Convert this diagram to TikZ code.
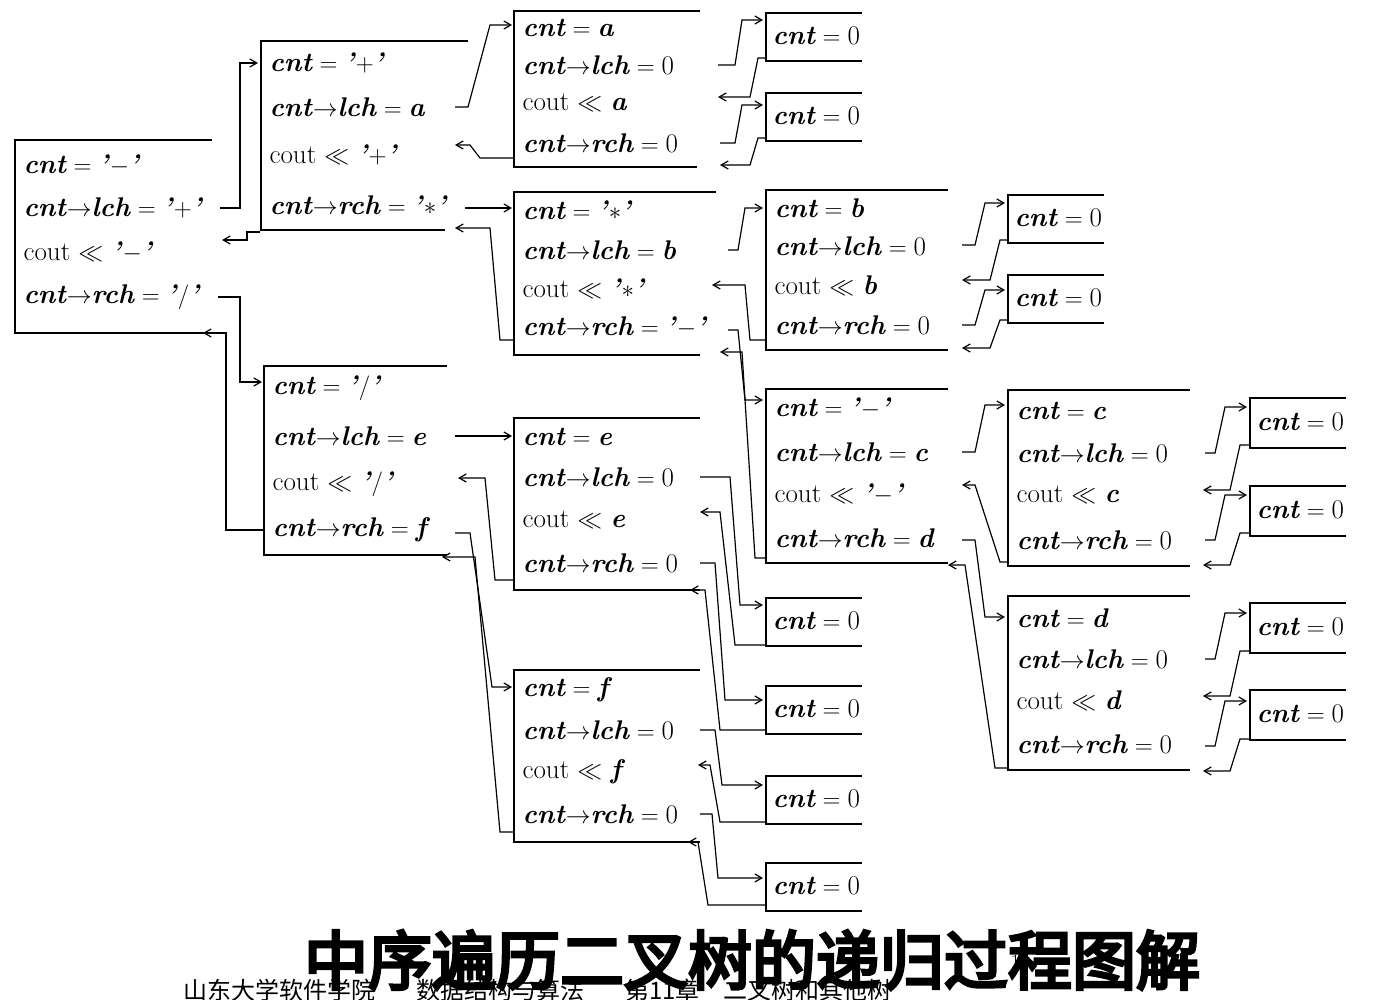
\documentclass[tikz,border=0pt]{standalone}
\usepackage{fontspec}
\usetikzlibrary{arrows.meta}
\newfontfamily\cjk{Noto Sans CJK SC}
\newfontfamily\cjkb{Noto Sans CJK SC}[FakeBold=5]
\newcommand{\C}{\textbf{\textit{cnt}}}
\newcommand{\A}{$\rightarrow$}
\newcommand{\Q}{\textbf{\textit{'}}}
\newcommand{\V}[1]{\textbf{\textit{#1}}}
\newcommand{\EQ}{${}={}$}
\newcommand{\bx}[5]{\draw (#4,#2)--(#1,#2)--(#1,#3)--(#5,#3);}
\newcommand{\rw}[9]{%
 \node[tx] at (#1+8,#2) {#6};\node[tx] at (#1+8,#3) {#7};%
 \node[tx] at (#1+8,#4) {#8};\node[tx] at (#1+8,#5) {#9};}
\begin{document}
\begin{tikzpicture}[x=1pt,y=-1pt,line width=1.2pt,
 tx/.style={anchor=west,inner sep=0pt,font=\fontsize{27}{30}\selectfont},
 ar/.style={-{Straight Barb[length=7pt,width=8pt]}}]
\useasboundingbox (0,0) rectangle (1378,1000);
% frames
\bx{15}{140}{333}{212}{212}
\rw{15}{165}{208}{252}{297}{\C\EQ\Q$-$\Q}{\C\A\V{lch}\EQ\Q$+$\Q}{cout $\ll$ \Q$-$\Q}{\C\A\V{rch}\EQ\Q$/$\Q}
\bx{261}{41}{230}{468}{445}
\rw{261}{63}{107}{155}{205}{\C\EQ\Q$+$\Q}{\C\A\V{lch}\EQ\V{a}}{cout $\ll$ \Q$+$\Q}{\C\A\V{rch}\EQ\Q$\ast$\Q}
\bx{514}{11}{167}{700}{697}
\rw{514}{28}{65}{103}{143}{\C\EQ\V{a}}{\C\A\V{lch}\EQ0}{cout $\ll$ \V{a}}{\C\A\V{rch}\EQ0}
\bx{514}{192}{355}{716}{700}
\rw{514}{210}{250}{289}{327}{\C\EQ\Q$\ast$\Q}{\C\A\V{lch}\EQ\V{b}}{cout $\ll$ \Q$\ast$\Q}{\C\A\V{rch}\EQ\Q$-$\Q}
\bx{766}{190}{350}{948}{948}
\rw{766}{208}{246}{286}{325}{\C\EQ\V{b}}{\C\A\V{lch}\EQ0}{cout $\ll$ \V{b}}{\C\A\V{rch}\EQ0}
\bx{766}{389}{563}{948}{948}
\rw{766}{408}{452}{494}{538}{\C\EQ\Q$-$\Q}{\C\A\V{lch}\EQ\V{c}}{cout $\ll$ \Q$-$\Q}{\C\A\V{rch}\EQ\V{d}}
\bx{1008}{390}{566}{1190}{1190}
\rw{1008}{411}{453}{495}{540}{\C\EQ\V{c}}{\C\A\V{lch}\EQ0}{cout $\ll$ \V{c}}{\C\A\V{rch}\EQ0}
\bx{1008}{596}{770}{1190}{1190}
\rw{1008}{618}{659}{701}{744}{\C\EQ\V{d}}{\C\A\V{lch}\EQ0}{cout $\ll$ \V{d}}{\C\A\V{rch}\EQ0}
\bx{264}{366}{555}{447}{447}
\rw{264}{388}{436}{484}{530}{\C\EQ\Q$/$\Q}{\C\A\V{lch}\EQ\V{e}}{cout $\ll$ \Q$/$\Q}{\C\A\V{rch}\EQ\V{f}}
\bx{514}{418}{590}{700}{700}
\rw{514}{437}{477}{520}{563}{\C\EQ\V{e}}{\C\A\V{lch}\EQ0}{cout $\ll$ \V{e}}{\C\A\V{rch}\EQ0}
\bx{514}{670}{842}{700}{700}
\rw{514}{690}{730}{772}{814}{\C\EQ\V{f}}{\C\A\V{lch}\EQ0}{cout $\ll$ \V{f}}{\C\A\V{rch}\EQ0}
% zero boxes
\foreach \x/\y in {766/13,766/93,1008/195,1008/275,766/598,766/686,766/776,766/863}{
 \draw (\x+96,\y)--(\x,\y)--(\x,\y+48)--(\x+96,\y+48);
 \node[tx] at (\x+6,\y+23) {\C\EQ0};}
\foreach \y in {398,486,603,690}{
 \draw (1346,\y)--(1250,\y)--(1250,\y+50)--(1346,\y+50);
 \node[tx] at (1256,\y+24) {\C\EQ0};}
% connectors
\draw[ar] (220,208)--(240,208)--(240,63)--(258,63);
\draw[ar] (260,232)--(247,232)--(247,240)--(222,240);
\draw[ar] (218,297)--(240,297)--(240,382)--(262,382);
\draw[ar] (264,530)--(226,530)--(226,333)--(203,333);
\draw[ar] (455,107)--(468,107)--(490,25)--(512,25);
\draw[ar] (514,158)--(480,158)--(470,145)--(455,145);
\draw[ar] (465,208)--(512,208);
\draw[ar] (514,340)--(500,340)--(490,228)--(455,228);
\draw[ar] (718,65)--(735,65)--(742,20)--(763,20);
\draw[ar] (766,58)--(758,58)--(750,97)--(718,97);
\draw[ar] (720,143)--(735,143)--(742,105)--(763,105);
\draw[ar] (766,138)--(758,138)--(750,165)--(720,165);
\draw[ar] (728,250)--(738,250)--(745,208)--(763,208);
\draw[ar] (766,340)--(750,340)--(745,285)--(712,285);
\draw[ar] (728,330)--(738,330)--(745,400)--(763,400);
\draw[ar] (766,558)--(755,558)--(742,352)--(720,352);
\draw[ar] (962,245)--(975,245)--(985,203)--(1005,203);
\draw[ar] (1008,240)--(1000,240)--(990,280)--(962,280);
\draw[ar] (962,325)--(975,325)--(985,290)--(1005,290);
\draw[ar] (1008,320)--(1000,320)--(990,348)--(962,348);
\draw[ar] (962,452)--(975,452)--(985,405)--(1005,405);
\draw[ar] (1008,562)--(1000,562)--(975,485)--(962,485);
\draw[ar] (962,540)--(975,540)--(985,617)--(1005,617);
\draw[ar] (1008,768)--(995,768)--(965,565)--(948,565);
\foreach \o in {0,206}{
 \draw[ar] (1205,453+\o)--(1215,453+\o)--(1225,407+\o)--(1247,407+\o);
 \draw[ar] (1250,445+\o)--(1240,445+\o)--(1230,490+\o)--(1203,490+\o);
 \draw[ar] (1205,540+\o)--(1215,540+\o)--(1225,495+\o)--(1247,495+\o);
 \draw[ar] (1250,533+\o)--(1240,533+\o)--(1230,565+\o)--(1203,565+\o);}
\draw[ar] (455,436)--(512,436);
\draw[ar] (514,580)--(495,580)--(485,478)--(458,478);
\draw[ar] (455,533)--(470,533)--(492,687)--(512,687);
\draw[ar] (514,832)--(500,832)--(475,557)--(442,557);
\draw[ar] (700,477)--(730,477)--(740,605)--(763,605);
\draw[ar] (766,645)--(735,645)--(720,512)--(700,512);
\draw[ar] (700,563)--(715,563)--(725,700)--(763,700);
\draw[ar] (766,730)--(720,730)--(705,590)--(690,590);
\draw[ar] (700,730)--(715,730)--(722,785)--(763,785);
\draw[ar] (766,822)--(720,822)--(710,765)--(698,765);
\draw[ar] (700,814)--(712,814)--(718,878)--(763,878);
\draw[ar] (766,905)--(708,905)--(698,842)--(688,842);
% title & footer
\node[inner sep=0pt,font=\cjkb\fontsize{64}{66}\selectfont] (title) at (752,960) {中序遍历二叉树的递归过程图解};
\node[inner sep=0pt,font=\fontsize{20}{22}\selectfont] (pg) at (1020,962) {18};
\node[anchor=west,inner sep=0pt,font=\cjk\fontsize{24}{26}\selectfont] (foot) at (183,990) {山东大学软件学院\hspace{1.7em}数据结构与算法\hspace{1.7em}第11章\hspace{1em}二叉树和其他树};
\end{tikzpicture}
\end{document}
